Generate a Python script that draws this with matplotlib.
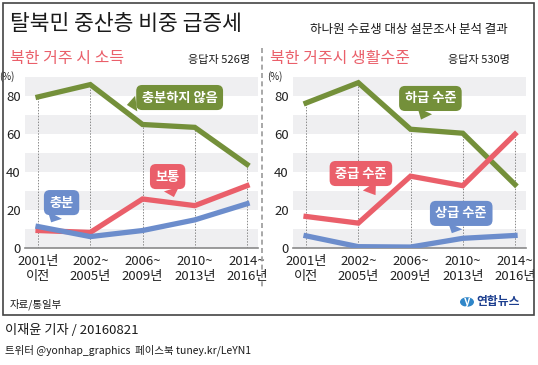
import numpy as np
import matplotlib
matplotlib.use('Agg')
import matplotlib.pyplot as plt
from matplotlib.patches import Rectangle, Circle
from matplotlib.lines import Line2D

plt.rcParams['font.family'] = ['Noto Sans CJK KR', 'DejaVu Sans']

# data
periods = ['2001년\n이전', '2002~\n2005년', '2006~\n2009년', '2010~\n2013년', '2014~\n2016년']

income_low = [79.5, 86, 65, 63.5, 44]      # 충분하지 않음
income_mid = [9.2, 8.2, 25.8, 22.3, 32.8]  # 보통
income_high = [11.3, 6, 9.2, 14.8, 23.3]   # 충분

living_low = [76.3, 87, 62.5, 60.4, 33.4]   # 하급 수준
living_mid = [16.6, 13.1, 37.8, 32.8, 59.9]  # 중급 수준
living_high = [6.4, 0.7, 0.5, 5.1, 6.6]     # 상급 수준

W, H = 538, 365
GREEN = '#74903a'
RED = '#ea5f6a'
BLUE = '#6c8dcc'
BAND = '#efeff1'

fig = plt.figure(figsize=(W / 100, H / 100), dpi=100)


def px(x, y):
    return x / W, 1 - y / H


def panel(left, series, callouts):
    ax = fig.add_axes([left / W, (H - 248) / H, 233 / W, 171 / H])
    x = np.arange(len(periods))
    for lo in range(0, 90, 20):
        ax.axhspan(lo, lo + 10, color=BAND, lw=0, zorder=0)
    tops = np.max([s[0] for s in series], axis=0)
    ax.vlines(x, 0, tops, colors='#8a8a8a', linestyles=(0, (1.5, 1.5)), lw=0.7, zorder=1)
    for vals, col in series:
        ax.plot(x, vals, color=col, lw=3.8, solid_joinstyle='miter', zorder=3)
    for text, col, pos, tip in callouts:
        ax.annotate(text, xy=tip, xytext=pos, ha='center', va='center',
                    color='white', fontsize=9.5, fontweight='bold', zorder=5,
                    bbox=dict(boxstyle='round,pad=0.42,rounding_size=0.45', fc=col, ec='none'),
                    arrowprops=dict(arrowstyle='wedge,tail_width=1.2', fc=col, ec='none',
                                    shrinkA=0, shrinkB=0))
    ax.set_xlim(-0.25, 4.21)
    ax.set_ylim(0, 90)
    ax.set_yticks([0, 20, 40, 60, 80])
    ax.set_xticks(x)
    ax.set_xticklabels(periods, fontsize=9.5, linespacing=1.2, color='#222222')
    ax.tick_params(axis='both', length=0, colors='#222222')
    ax.tick_params(axis='y', pad=3, labelsize=9.5)
    ax.tick_params(axis='x', pad=5)
    for s in ['top', 'right', 'left']:
        ax.spines[s].set_visible(False)
    ax.spines['bottom'].set_color('#8a8a8a')
    ax.spines['bottom'].set_linewidth(1.2)
    ax.text(-0.045, 1.0, '(%)', transform=ax.transAxes, fontsize=7, ha='right', va='center',
            color='#222222')
    return ax


panel(25, [(income_low, GREEN), (income_mid, RED), (income_high, BLUE)],
      [('충분하지 않음', GREEN, (2.71, 79.2), (1.7, 75.3)),
       ('보통', RED, (2.48, 37.6), (2.6, 26.8)),
       ('충분', BLUE, (0.45, 23.9), (0.25, 13.5))])

panel(293, [(living_low, GREEN), (living_mid, RED), (living_high, BLUE)],
      [('하급 수준', GREEN, (2.38, 78.7), (2.2, 67.6)),
       ('중급 수준', RED, (1.05, 39.2), (1.33, 27.8)),
       ('상급 수준', BLUE, (2.97, 18.2), (2.79, 7.8)),
       ])

# titles and notes
fig.text(*px(10, 24), '탈북민 중산층 비중 급증세', fontsize=15.5, va='center', ha='left', color='#1a1a1a')
fig.text(*px(508, 30), '하나원 수료생 대상 설문조사 분석 결과', fontsize=9, va='center', ha='right',
         color='#1a1a1a', style='italic')
fig.text(*px(10, 58), '북한 거주 시 소득', fontsize=11.5, va='center', ha='left', color=RED)
fig.text(*px(250, 60), '응답자 526명', fontsize=8, va='center', ha='right', color='#1a1a1a')
fig.text(*px(270, 58), '북한 거주시 생활수준', fontsize=11.5, va='center', ha='left', color=RED)
fig.text(*px(510, 60), '응답자 530명', fontsize=8, va='center', ha='right', color='#1a1a1a')
fig.text(*px(10, 304), '자료/통일부', fontsize=7.5, va='center', ha='left', color='#1a1a1a')
fig.text(*px(5, 331), '이재윤 기자 / 20160821', fontsize=9.5, va='center', ha='left', color='#1a1a1a')
fig.text(*px(5, 350), '트위터 @yonhap_graphics  페이스북 tuney.kr/LeYN1', fontsize=7.5, va='center',
         ha='left', color='#1a1a1a')

# logo
fig.add_artist(Circle(px(467, 302), 7 / W, transform=fig.transFigure, fc='#2f86c9', ec='none'))
fig.text(*px(467, 302), 'y', fontsize=8, color='white', ha='center', va='center',
         style='italic', fontweight='bold')
fig.text(*px(476, 302), '연합뉴스', fontsize=8.5, color='#1d3f8f', ha='left', va='center',
         fontweight='bold')

# frame and separator
fig.add_artist(Rectangle(px(3, 315), 531 / W, 312 / H, transform=fig.transFigure,
                         fill=False, ec='#444444', lw=1.2))
fig.add_artist(Line2D([262 / W, 262 / W], [1 - 48 / H, 1 - 287 / H], transform=fig.transFigure,
                      color='#9a9a9a', lw=1.2, ls=(0, (3, 2))))

fig.savefig('out.png', dpi=100)
